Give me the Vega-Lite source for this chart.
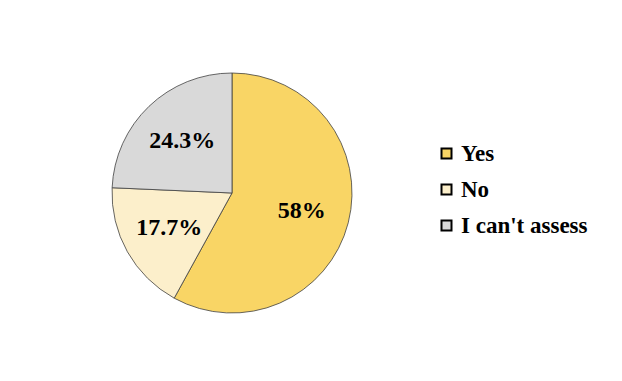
{
  "$schema": "https://vega.github.io/schema/vega-lite/v6.json",
  "width": 452,
  "height": 364,
  "padding": {"left": 6, "top": 11, "right": 164, "bottom": 6},
  "autosize": {"type": "none"},
  "background": "white",
  "config": {"view": {"stroke": null}},
  "data": {
    "values": [
      {"answer": "Yes", "pct": 58, "label": "58%", "idx": 1},
      {"answer": "No", "pct": 17.7, "label": "17.7%", "idx": 2},
      {"answer": "I can't assess", "pct": 24.3, "label": "24.3%", "idx": 3}
    ]
  },
  "encoding": {
    "theta": {"field": "pct", "type": "quantitative", "stack": true},
    "order": {"field": "idx", "type": "quantitative"}
  },
  "layer": [
    {
      "mark": {"type": "arc", "outerRadius": 120, "stroke": "#404040", "strokeWidth": 0.8},
      "encoding": {
        "color": {
          "field": "answer",
          "type": "nominal",
          "scale": {"domain": ["Yes", "No", "I can't assess"], "range": ["#F9D565", "#FCEFCB", "#D9D9D9"]},
          "legend": {
            "orient": "none",
            "legendX": 429,
            "legendY": 131,
            "title": null,
            "symbolType": "square",
            "symbolSize": 100,
            "symbolStrokeColor": "black",
            "symbolStrokeWidth": 2,
            "labelFont": "Liberation Serif",
            "labelFontWeight": "bold",
            "labelFontSize": 23,
            "labelColor": "black",
            "labelOffset": 3,
            "labelLimit": 300,
            "rowPadding": 12
          }
        }
      }
    },
    {
      "mark": {"type": "text", "radius": 72, "font": "Liberation Serif", "fontWeight": "bold", "fontSize": 24, "color": "black"},
      "encoding": {"text": {"field": "label", "type": "nominal"}}
    }
  ]
}
